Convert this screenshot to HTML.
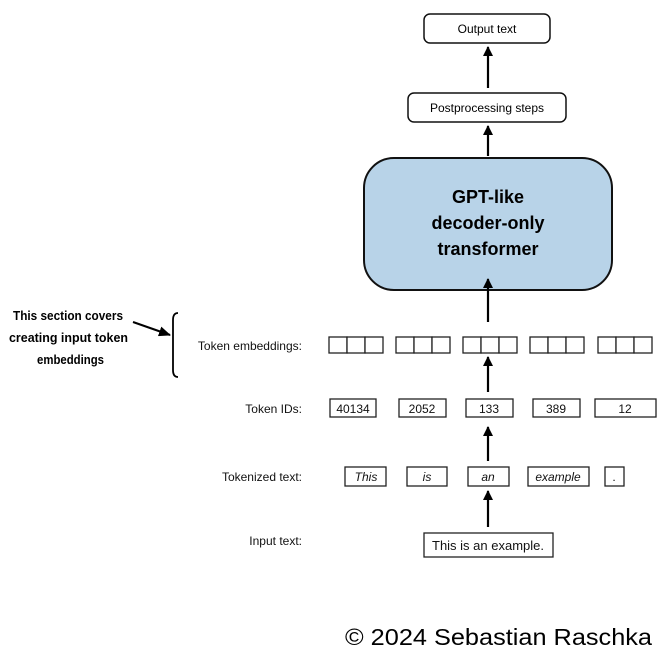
<!DOCTYPE html>
<html><head><meta charset="utf-8"><style>
html,body{margin:0;padding:0;background:#fff;}
svg{display:block;font-family:"Liberation Sans",sans-serif;}
</style></head><body>
<svg width="664" height="663" viewBox="0 0 664 663" xmlns="http://www.w3.org/2000/svg">
<defs><marker id="a" markerWidth="10" markerHeight="10" refX="9" refY="5" orient="auto" markerUnits="userSpaceOnUse"><path d="M0,0 L10,5 L0,10 Z" fill="#000"/></marker>
<marker id="b" markerWidth="12" markerHeight="10" refX="11" refY="5" orient="auto" markerUnits="userSpaceOnUse"><path d="M0,0 L12,5 L0,10 Z" fill="#000"/></marker></defs>
<g stroke="#111" fill="#fff" stroke-width="1.5">
<rect x="424" y="14" width="126" height="29" rx="6"/>
<rect x="408" y="93" width="158" height="29" rx="6"/>
<rect x="364" y="158" width="248" height="132" rx="30" fill="#b8d3e8" stroke-width="2"/>
</g>
<g font-size="12" text-anchor="middle" fill="#000">
<text x="487" y="33">Output text</text>
<text x="487" y="112">Postprocessing steps</text>
</g>
<g font-size="18" font-weight="bold" text-anchor="middle" fill="#000">
<text x="488" y="203">GPT-like</text>
<text x="488" y="229">decoder-only</text>
<text x="488" y="255">transformer</text>
</g>
<g stroke="#000" stroke-width="2.2" marker-end="url(#a)">
<line x1="488" y1="88" x2="488" y2="47"/>
<line x1="488" y1="156" x2="488" y2="126"/>
<line x1="488" y1="322" x2="488" y2="279"/>
<line x1="488" y1="392" x2="488" y2="357"/>
<line x1="488" y1="461" x2="488" y2="427"/>
<line x1="488" y1="527" x2="488" y2="491"/>
</g>
<g stroke="#222" fill="#fff" stroke-width="1.3">
<rect x="329" y="337" width="18" height="16"/><rect x="347" y="337" width="18" height="16"/><rect x="365" y="337" width="18" height="16"/>
<rect x="396" y="337" width="18" height="16"/><rect x="414" y="337" width="18" height="16"/><rect x="432" y="337" width="18" height="16"/>
<rect x="463" y="337" width="18" height="16"/><rect x="481" y="337" width="18" height="16"/><rect x="499" y="337" width="18" height="16"/>
<rect x="530" y="337" width="18" height="16"/><rect x="548" y="337" width="18" height="16"/><rect x="566" y="337" width="18" height="16"/>
<rect x="598" y="337" width="18" height="16"/><rect x="616" y="337" width="18" height="16"/><rect x="634" y="337" width="18" height="16"/>
<rect x="330" y="399" width="46" height="18"/><rect x="399" y="399" width="47" height="18"/><rect x="466" y="399" width="47" height="18"/><rect x="533" y="399" width="47" height="18"/><rect x="595" y="399" width="61" height="18"/>
<rect x="345" y="467" width="41" height="19"/><rect x="407" y="467" width="40" height="19"/><rect x="468" y="467" width="41" height="19"/><rect x="528" y="467" width="61" height="19"/><rect x="605" y="467" width="19" height="19"/>
<rect x="424" y="533" width="129" height="24"/>
</g>
<g font-size="12" fill="#111" text-anchor="middle">
<text x="353" y="413">40134</text><text x="422" y="413">2052</text><text x="489" y="413">133</text><text x="556" y="413">389</text><text x="625" y="413">12</text>
<g font-style="italic"><text x="366" y="481">This</text><text x="427" y="481">is</text><text x="488" y="481">an</text><text x="558" y="481">example</text></g>
<text x="614" y="481">.</text>
<text x="488" y="550" font-size="13">This is an example.</text>
</g>
<g font-size="12" fill="#111" text-anchor="end">
<text x="302" y="350">Token embeddings:</text>
<text x="302" y="413">Token IDs:</text>
<text x="302" y="481">Tokenized text:</text>
<text x="302" y="545">Input text:</text>
</g>
<path d="M178,313 Q173,313 173,320 L173,370 Q173,377 178,377" fill="none" stroke="#000" stroke-width="1.8"/>
<line x1="133" y1="322" x2="170" y2="335" stroke="#000" stroke-width="2" marker-end="url(#b)"/>
<g font-size="13" font-weight="bold" fill="#000">
<text x="13" y="320" textLength="110" lengthAdjust="spacingAndGlyphs">This section covers</text>
<text x="9" y="342" textLength="119" lengthAdjust="spacingAndGlyphs">creating input token</text>
<text x="37" y="364" textLength="67" lengthAdjust="spacingAndGlyphs">embeddings</text>
</g>
<text x="345" y="645" font-size="23" fill="#000" textLength="307" lengthAdjust="spacingAndGlyphs">© 2024 Sebastian Raschka</text>
</svg>
</body></html>
